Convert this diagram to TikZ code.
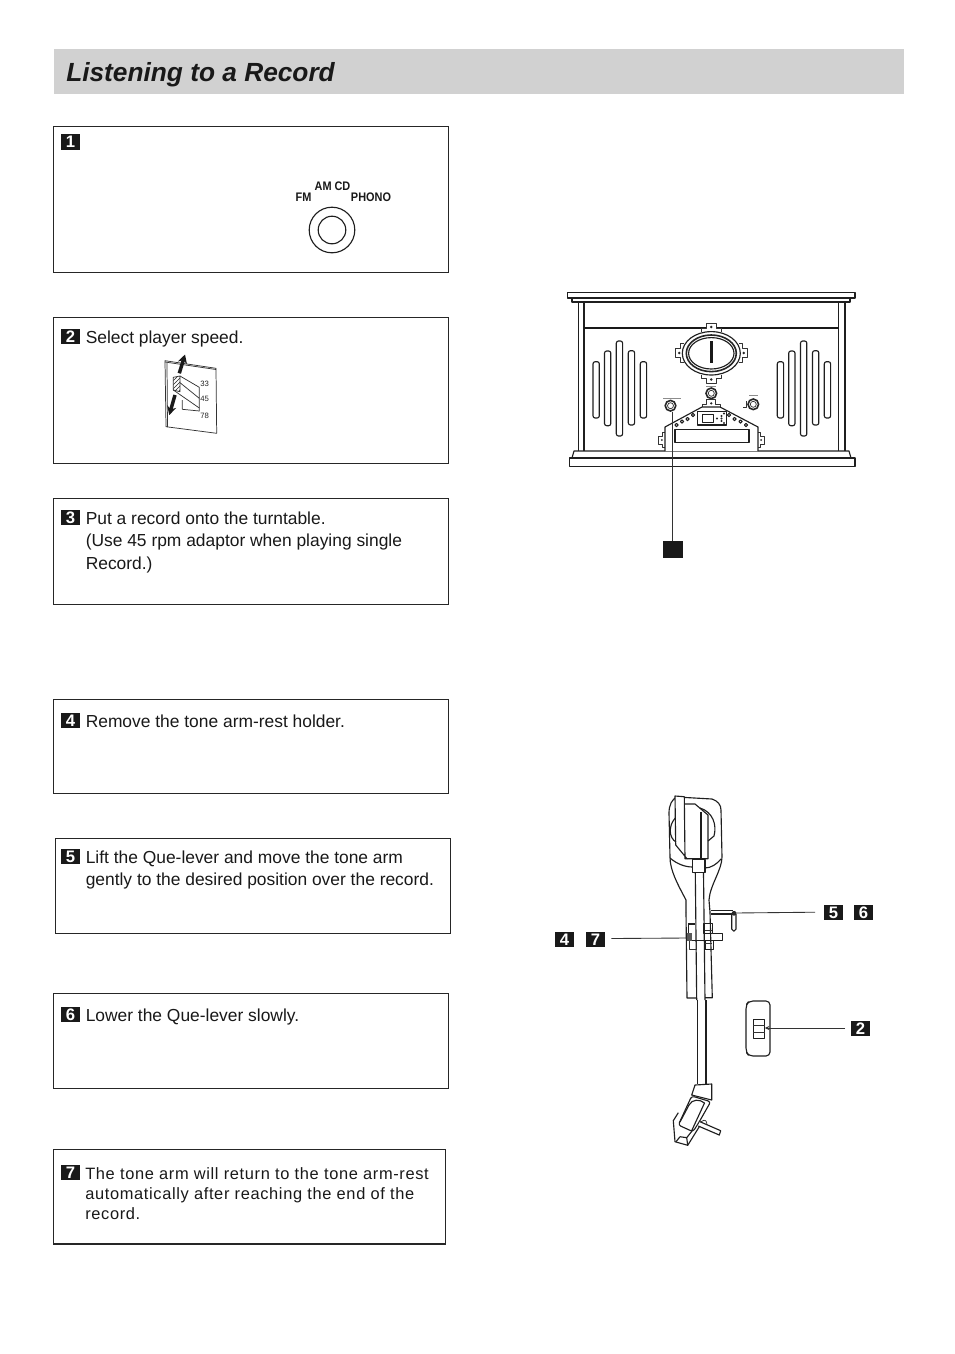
\documentclass[tikz,border=0pt]{standalone}
\usepackage{fontspec}
\setmainfont{Liberation Sans}
\usetikzlibrary{patterns,arrows.meta}
\tikzset{
  panel/.style={draw=black!85,line width=0.85pt},
  stepnum/.style={fill=black!90,text=white,font=\fontsize{12.5pt}{12.5pt}\selectfont\bfseries,minimum width=14.25pt,minimum height=11.6pt,inner sep=0pt},
  body/.style={anchor=base west,inner sep=0pt,font=\fontsize{13.05pt}{13.05pt}\selectfont,text=black!90},
  spaced/.style={anchor=base west,inner sep=0pt,font=\fontsize{12.3pt}{12.3pt}\selectfont\addfontfeature{LetterSpace=4},text=black!90},
  dial/.style={anchor=base,inner sep=0pt,font=\fontsize{9.3pt}{9.3pt}\selectfont\bfseries\addfontfeature{FakeStretch=0.88},text=black!90},
  tiny/.style={anchor=base west,inner sep=0pt,font=\fontsize{5.8pt}{5.8pt}\selectfont,text=black!85},
  ink/.style={draw=black!88,line width=0.85pt,line join=round},
  thin/.style={draw=black!80,line width=0.55pt,line join=round},
  leader/.style={draw=black!80,line width=0.65pt},
  slot/.style={ink,rounded corners=1.6pt},
  knobring/.style={draw=black!85,line width=1.2pt},
}
\newcommand{\slotbar}[3]{\draw[slot] (#1,#2) rectangle (#1+6.3,#3);}
\newcommand{\lug}[4]{\begin{scope}[shift={(#1,#2)},rotate=#3,scale=#4]
  \draw[thin,fill=white] (-10,1)--(-10,-3)--(-5,-3)--(-5,-8)--(5,-8)--(5,-3)--(10,-3)--(10,1);
  \fill[black!85] (0,-4) circle[radius=1.4];
\end{scope}}
\begin{document}
\begin{tikzpicture}[x=0.75pt,y=-0.75pt]
\path[use as bounding box,fill=white] (0,0) rectangle (954,1354);
% header
\fill[black!18] (54,49) rectangle (904,94);
\node[anchor=base west,inner sep=0pt,font=\fontsize{19.7pt}{19.7pt}\selectfont\bfseries\itshape,text=black!90] (title) at (66,81) {Listening to a Record};
% panels
\draw[panel] (53.5,126.5) rectangle (448.5,272.5);
\draw[panel] (53.5,317.5) rectangle (448.5,463.5);
\draw[panel] (53.5,498.5) rectangle (448.5,604.5);
\draw[panel] (53.5,699.5) rectangle (448.5,793.5);
\draw[panel] (55.5,838.5) rectangle (450.5,933.5);
\draw[panel] (53.5,993.5) rectangle (448.5,1088.5);
\draw[panel] (53.5,1149.5) rectangle (445.5,1244);
% step numbers
\node[stepnum] (s1) at (70.5,142) {1};
\node[stepnum] (s2) at (70.5,336.5) {2};
\node[stepnum] (s3) at (70.5,517.5) {3};
\node[stepnum] (s4) at (70.5,720.5) {4};
\node[stepnum] (s5) at (70.5,856.5) {5};
\node[stepnum] (s6) at (70.5,1014.5) {6};
\node[stepnum] (s7) at (70.5,1172.5) {7};
% texts
\node[body] (t2) at (85.5,343) {Select player speed.};
\node[body] (t3a) at (85.5,524) {Put a record onto the turntable.};
\node[body] (t3b) at (85.5,546.5) {(Use 45 rpm adaptor when playing single};
\node[body] (t3c) at (85.5,569) {Record.)};
\node[body] (t4) at (85.5,727) {Remove the tone arm-rest holder.};
\node[body] (t5a) at (85.5,863) {Lift the Que-lever and move the tone arm};
\node[body] (t5b) at (85.5,885) {gently to the desired position over the record.};
\node[body] (t6) at (85.5,1021) {Lower the Que-lever slowly.};
\node[spaced] (t7a) at (85,1179) {The tone arm will return to the tone arm-rest};
\node[spaced] (t7b) at (85,1199) {automatically after reaching the end of the};
\node[spaced] (t7c) at (85,1219) {record.};
% function dial
\node[dial] (fm) at (303.5,201) {FM};
\node[dial] (amcd) at (332.5,190) {AM CD};
\node[dial] (phono) at (371,201) {PHONO};
\draw[ink] (332,230) circle[radius=22.8];
\draw[ink] (332,230) circle[radius=13.8];
% speed card
\draw[thin] (165,360.7)--(216,368.3)--(216.7,433.3)--(166,426.7)--cycle;
\draw[thin] (167,362.5)--(167.5,427);
\draw[thin] (165,362)--(216,369.5);
\fill[pattern=north east lines,pattern color=black!85] (173.3,377.3)--(180,376)--(180,391.7)--(173.3,390)--cycle;
\draw[thin] (173.3,377.3)--(180,376)--(180,391.7)--(173.3,390)--cycle;
\draw[thin] (180,376)--(199.3,387.3)--(199.3,411)--(182.3,409.3)--(182.3,400);
\draw[thin] (180,382.7)--(199.3,398.3);
\draw[thin] (173.3,390)--(199.3,408);
\draw[-{Stealth[length=6.5pt,width=7pt]},line width=2.6pt,black!90] (179.3,373.3) -- (185,354.5);
\draw[-{Stealth[length=6.5pt,width=7pt]},line width=2.6pt,black!90] (175,395) -- (169.3,415);
\node[tiny] (sp33) at (200,386) {33};
\node[tiny] (sp45) at (200,401.5) {45};
\node[tiny] (sp78) at (200,418) {78};
% cabinet
\draw[ink] (567.5,292.5) rectangle (855,298);
\draw[ink] (572,298) rectangle (850,302);
\draw[ink] (578.5,302) -- (578.5,451) (584,302) -- (584,451) (838.5,302) -- (838.5,451) (845,302) -- (845,451);
\draw[draw=black!90,line width=1.1pt] (584,328) -- (838.5,328);
\draw[ink] (574,451)--(849,451)--(851,458)--(572,458)--cycle;
\draw[ink] (569.5,458) rectangle (855,466.5);
\slotbar{593}{361.7}{418}\slotbar{604.5}{351}{425.7}\slotbar{616.3}{341}{436}\slotbar{628.3}{350.7}{425}\slotbar{640.3}{361.7}{418}
\slotbar{777.3}{361.7}{418}\slotbar{788.7}{351}{425.7}\slotbar{800.5}{341}{436}\slotbar{812.5}{350.7}{425}\slotbar{824.3}{361.7}{418}
% clock
\lug{711.3}{331}{0}{1}\lug{711.3}{375.5}{180}{1}\lug{683}{353}{90}{0.95}\lug{740}{353}{-90}{0.95}
\draw[ink,fill=white] (711.3,353.3) ellipse[x radius=29,y radius=21.7];
\draw[draw=black!85,line width=1.2pt] (711.3,353.3) ellipse[x radius=25,y radius=18.3];
\draw[ink] (711.3,353.3) ellipse[x radius=22.7,y radius=15.7];
\fill[black!90] (710,340.5) rectangle (712.6,363);
% knobs
\draw[knobring] (670.5,405.7) circle[radius=5.3];
\draw[thin] (670.5,405.7) circle[radius=3];
\draw[knobring] (711.3,393.3) circle[radius=5.3];
\draw[thin] (711.3,393.3) circle[radius=3];
\draw[knobring] (753.3,404.3) circle[radius=5.3];
\draw[thin] (753.3,404.3) circle[radius=3];
\draw[thin,black!45] (663,398) -- (681,398) (706,386.5) -- (716,386.5) (749,395.5) -- (758,395.5);
\draw[thin] (746,401) -- (746,407) -- (743,407);
% console
\lug{711.3}{407}{0}{0.9}
\lug{665}{440}{90}{0.78}\lug{758}{440}{-90}{0.78}
\draw[ink,fill=white] (665,451)--(665,427)--(702,407)--(720,407)--(758,427)--(758,451);
\draw[ink] (697.3,411.7) rectangle (726.7,425);
\draw[ink] (702.7,414.3) rectangle (713.3,422.3);
\foreach \p in {(717,418.5),(721.5,416),(721.5,418.5),(721.5,421),(724,413.5),(724,423)}{\fill[black!85] \p circle[radius=1.1];}
\foreach \p in {(676.5,425),(682,421.5),(687.5,419),(693,415),(729,415),(734.5,419),(740.5,421.5),(746,425)}{\draw[ink] \p circle[radius=1.6];}
\draw[ink] (675,429.5) rectangle (749,442.5);
% caller
\node[stepnum,minimum width=15pt,minimum height=12.7pt] (blank) at (673,549.5) {};
\coordinate (knobend) at (672,411.5);
\draw[leader] (knobend) -- (672,541);
% tone arm
\draw[ink] (686,912)--(686,900) .. controls (677,883) and (670,870) .. (670,857) -- (669,813) .. controls (669,805) and (672,799) .. (677,797) -- (712,799) .. controls (718,801) and (721,805) .. (721,810) -- (722,857) .. controls (722,870) and (710,885) .. (709,900) -- (710,912);
\draw[ink,fill=white] (675,796)--(684.3,796.7)--(685,858.7)--(687,858.7)--(675.7,845)--cycle;
\draw[ink] (684.3,804)--(695,804)--(708,815)--(708,858.7)--(687,858.7);
\draw[ink] (701,812)--(701,858.7);
\draw[ink] (700,808) .. controls (713,812) and (717,825) .. (714,836) -- (708,841);
\draw[ink] (675.3,818) .. controls (668,826) and (669,838) .. (676,842);
\draw[ink] (670,858) .. controls (677,864) and (685,867) .. (692.7,867);
\draw[ink] (705,868) .. controls (711,868) and (717,864) .. (721,859);
\draw[ink,fill=white] (692.7,859.3) rectangle (705,872.7);
\draw[ink] (695.3,872.7) -- (696.7,1000) (703.5,872.7) -- (705,1000);
\draw[ink] (697.7,1000) -- (697.7,1084) (706,1000) -- (706,1084);
\draw[ink] (686,912) -- (687,998) -- (696.7,998);
\draw[ink] (710,912) -- (712.3,997.7) -- (705,997.7);
% arm base details
\draw[ink] (688.3,924)--(695,924) (688.3,924)--(688.3,933);
\draw[thin] (689.3,940)--(689.3,949)--(696.7,949)--(696.7,940);
\draw[ink] (686,940.7)--(722.7,940.7)--(722.7,933.3)--(712.7,933.3);
\draw[ink] (704,923.3)--(712.3,923.3)--(712.3,933.3)--(704,933.3)--cycle;
\draw[thin] (705,930)--(711.7,930);
\draw[ink] (705,941)--(705,949.5)--(713.3,949.5)--(713.3,941);
\draw[thin] (705,943.3)--(712.3,943.3);
\fill[black!65] (686.7,933.3) rectangle (691.7,940.7);
\draw[ink] (711,910.7)--(733,910.7) (711,914)--(731.7,914);
\draw[ink,rounded corners=1.4pt] (731.7,914)--(731.7,931)--(736,931)--(736,914);
\fill[black!85] (734,913.3) circle[radius=2.4];
% headshell
\draw[ink] (695,1085)--(711.7,1084)--(711.7,1100)--(691.7,1095)--cycle;
\draw[ink,rounded corners=2pt] (691.7,1096)--(710.7,1101.7)--(699.3,1121.7)--(693,1131.7)--(678.3,1125)--cycle;
\draw[ink] (680,1122) -- (689,1105) .. controls (692,1099) and (700,1099) .. (704.5,1103) -- (692,1130);
\draw[ink] (678.3,1112.7)--(673.3,1120.7)--(675,1141.7)--(687.7,1145.3)--(699.3,1126.7);
\draw[ink] (680,1136.7)--(686.7,1137.7)--(687.7,1145.3) (680,1136.7)--(676,1141.7) (686.7,1137.7)--(692,1131);
\draw[ink,fill=white] (700,1121.7)--(720.7,1130.7)--(719.3,1135)--(698.3,1126);
\draw[thin] (701,1121.7) .. controls (706,1118) and (707,1122) .. (706.7,1124.7);
% rest box
\draw[ink,rounded corners=3pt] (770,1001)--(749,1001)--(746,1005)--(746,1052)--(749,1056)--(770,1056)--cycle;
\draw[ink] (753.3,1019.3) rectangle (764.7,1038.3);
\draw[thin] (753.3,1025)--(764.7,1025) (753.3,1032)--(764.7,1032);
% right-hand badges
\node[stepnum] (b56a) at (833.5,912.5) {5};
\node[stepnum] (b56b) at (863.5,912.5) {6};
\node[stepnum] (b47a) at (564.5,939.5) {4};
\node[stepnum] (b47b) at (595.5,939.5) {7};
\node[stepnum] (b2) at (860.5,1028.5) {2};
\coordinate (leverend) at (734,913);
\coordinate (pivotend) at (687,938);
\coordinate (restend) at (764.7,1028);
\draw[leader] (b56a.west) ++(-8.5,-0.3) -- (leverend);
\draw[leader] (b47b.east) ++(6,-1) -- (pivotend);
\draw[leader,-{Stealth[length=3.5pt,width=3pt]}] (b2.west) ++(-5.5,-0.5) -- (restend);
\end{tikzpicture}
\end{document}
